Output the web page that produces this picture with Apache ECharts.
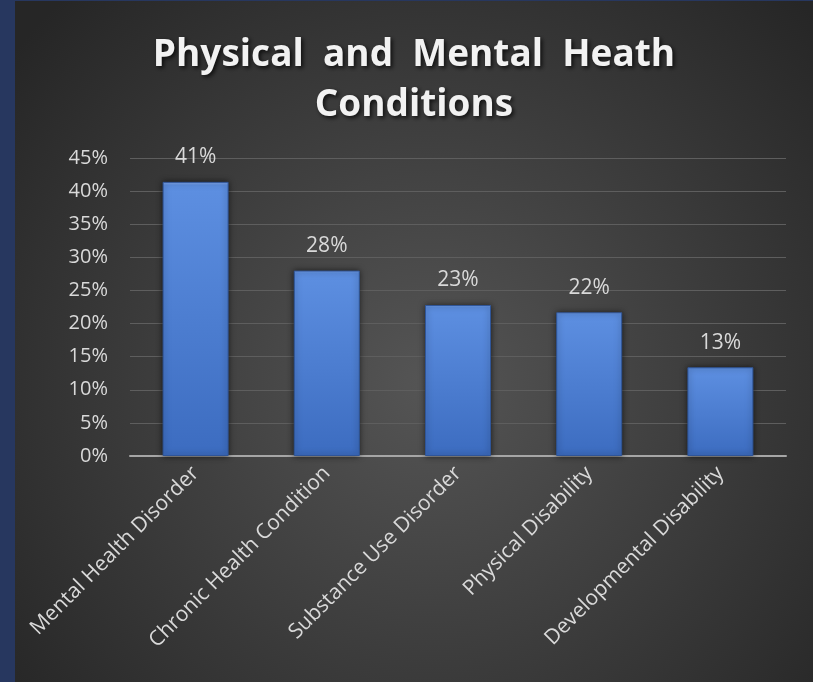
<!DOCTYPE html>
<html>
<head>
<meta charset="utf-8">
<script src="https://cdn.jsdelivr.net/npm/echarts@6/dist/echarts.min.js"></script>
<style>
html,body{margin:0;padding:0;background:#27375f;width:813px;height:682px;overflow:hidden;}
#chart{position:absolute;left:15px;top:1px;width:798px;height:681px;}
</style>
</head>
<body>
<div id="chart"></div>
<script>
const titleText = "Physical  and  Mental  Heath\nConditions";
const categories = ["Mental Health Disorder", "Chronic Health Condition", "Substance Use Disorder", "Physical Disability", "Developmental Disability"];
const values = [0.414, 0.280, 0.228, 0.217, 0.134];
const yMin = 0, yMax = 0.45, yStep = 0.05;

const chart = echarts.init(document.getElementById('chart'), null, {renderer: 'canvas'});
const font = '"Open Sans", "Noto Sans", sans-serif';
chart.setOption({
  backgroundColor: {
    type: 'radial', x: 0.52, y: 0.56, r: 0.78,
    colorStops: [{offset: 0, color: '#555555'}, {offset: 1, color: '#262626'}]
  },
  title: {
    text: titleText,
    left: 'center', top: 24,
    textStyle: {
      color: '#f2f2f2', fontFamily: font, fontWeight: 'bold', fontSize: 37, lineHeight: 50,
      textShadowColor: 'rgba(0,0,0,0.75)', textShadowBlur: 4, textShadowOffsetX: 2, textShadowOffsetY: 2
    }
  },
  grid: {left: 115, right: 27, top: 157, bottom: 226, containLabel: false},
  xAxis: {
    type: 'category', data: categories,
    axisLine: {lineStyle: {color: '#a6a6a6', width: 2}},
    axisTick: {show: false},
    axisLabel: {rotate: 45, interval: 0, margin: 14, color: '#d9d9d9', fontFamily: font, fontSize: 21}
  },
  yAxis: {
    type: 'value', min: yMin, max: yMax, interval: yStep,
    axisLine: {show: false}, axisTick: {show: false},
    splitLine: {lineStyle: {color: '#5e5e5e', width: 1}},
    axisLabel: {margin: 22, color: '#d9d9d9', fontFamily: font, fontSize: 20,
      formatter: v => Math.round(v * 100) + '%'}
  },
  series: [{
    type: 'bar', data: values, barWidth: 66,
    itemStyle: {
      color: {type: 'linear', x: 0, y: 0, x2: 0, y2: 1,
        colorStops: [{offset: 0, color: '#86aaec'}, {offset: 0.012, color: '#5d8fe1'}, {offset: 1, color: '#3c6cc0'}]},
      borderColor: '#2f5598', borderWidth: 1,
      shadowColor: 'rgba(0,0,0,0.6)', shadowBlur: 6, shadowOffsetX: 0, shadowOffsetY: 0
    },
    label: {show: true, position: 'top', distance: 14, color: '#d9d9d9', fontFamily: font, fontSize: 21,
      formatter: p => Math.round(p.value * 100) + '%'}
  }]
});
</script>
</body>
</html>
